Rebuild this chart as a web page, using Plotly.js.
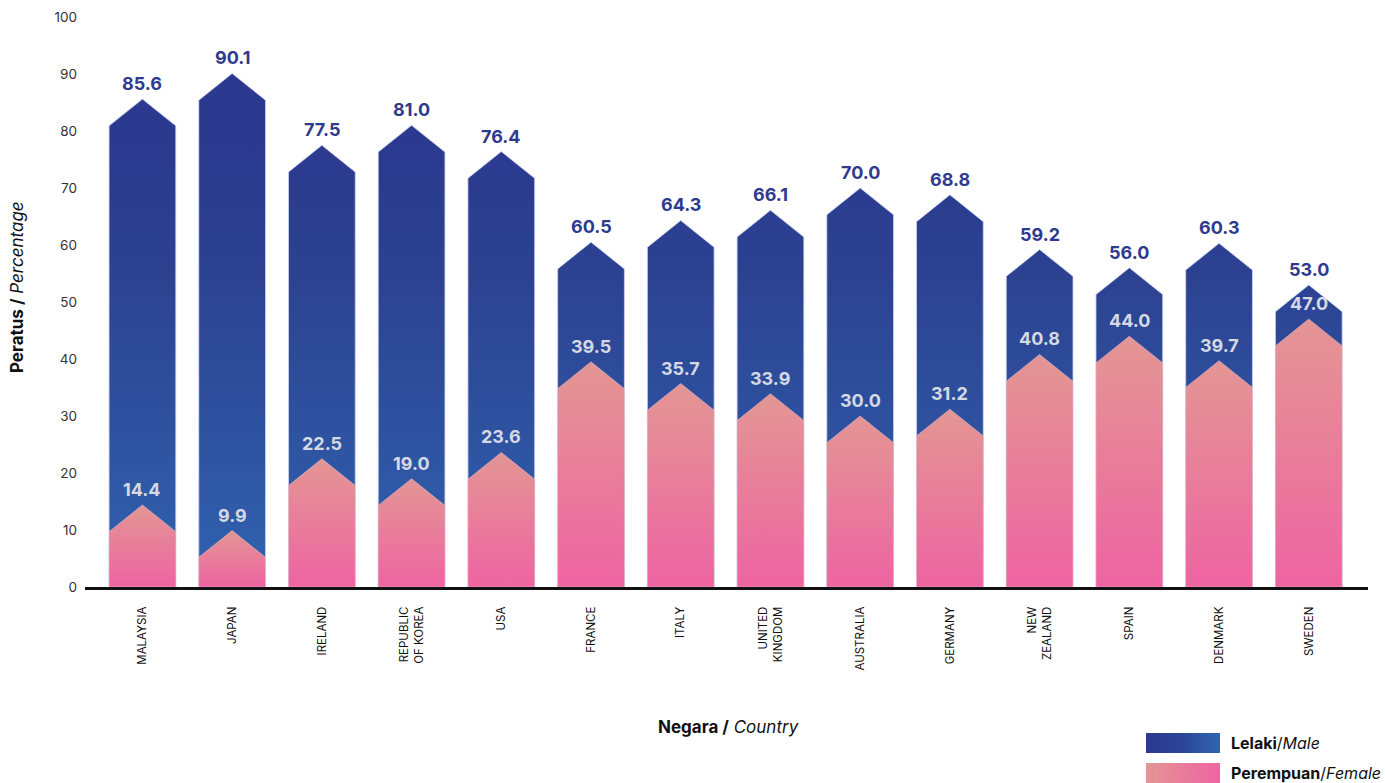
<!DOCTYPE html>
<html>
<head>
<meta charset="utf-8">
<script src="https://cdn.plot.ly/plotly-3.0.1.min.js"></script>
<style>html,body{margin:0;padding:0;background:#fff;}#chart{width:1385px;height:783px;}</style>
</head>
<body>
<div id="chart"></div>
<script>
// ---- data ----
const countries = ['MALAYSIA','JAPAN','IRELAND','REPUBLIC<br>OF KOREA','USA','FRANCE','ITALY','UNITED<br>KINGDOM','AUSTRALIA','GERMANY','NEW<br>ZEALAND','SPAIN','DENMARK','SWEDEN'];
const male   = [85.6, 90.1, 77.5, 81.0, 76.4, 60.5, 64.3, 66.1, 70.0, 68.8, 59.2, 56.0, 60.3, 53.0];
const female = [14.4,  9.9, 22.5, 19.0, 23.6, 39.5, 35.7, 33.9, 30.0, 31.2, 40.8, 44.0, 39.7, 47.0];
const yTicks = [0,10,20,30,40,50,60,70,80,90,100];

// ---- style ----
const HALF = 0.372;     // half bar width (category units)
const CHEV = 4.7;       // arrow-head depth (axis units)
const FONT = 'Inter, "Open Sans", sans-serif';
const maleScale = [[0,'#3063B0'],[0.3,'#2E52A0'],[0.6,'#2C4291'],[0.8,'#2B3B8F'],[1,'#2B388E']];
const femScale = [[0,'#EE64A1'],[1,'#E39694']];

function arrowPoly(i, v) {
  const s = Math.max(v - CHEV, 0);
  return {
    x: [i-HALF, i-HALF, i, i+HALF, i+HALF, i-HALF],
    y: [0, s, v, s, 0, 0]
  };
}

const traces = [];
countries.forEach((c, i) => {
  const p = arrowPoly(i, male[i]);
  traces.push({
    type: 'scatter', mode: 'lines', x: p.x, y: p.y, fill: 'toself',
    line: {color: 'rgba(205,210,240,0.8)', width: 1},
    fillcolor: '#2B3990',
    fillgradient: {type: 'vertical', colorscale: maleScale, start: 0, stop: 91},
    hoverinfo: 'skip', showlegend: false
  });
});
countries.forEach((c, i) => {
  const p = arrowPoly(i, female[i]);
  traces.push({
    type: 'scatter', mode: 'lines', x: p.x, y: p.y, fill: 'toself',
    line: {color: 'rgba(240,200,215,0.6)', width: 0.8},
    fillcolor: '#E8809A',
    fillgradient: {type: 'vertical', colorscale: femScale},
    hoverinfo: 'skip', showlegend: false
  });
});
// legend swatches on an overlay axis pair
traces.push({
  type: 'scatter', mode: 'lines', xaxis: 'x2', yaxis: 'y2',
  x: [0,0,1,1,0], y: [30,50,50,30,30], fill: 'toself', line: {width: 0},
  fillcolor: '#2B3990',
  fillgradient: {type: 'horizontal', colorscale: [[0,'#2B388E'],[0.5,'#2C4697'],[1,'#3066B0']]},
  hoverinfo: 'skip', showlegend: false
});
traces.push({
  type: 'scatter', mode: 'lines', xaxis: 'x2', yaxis: 'y2',
  x: [0,0,1,1,0], y: [0,20,20,0,0], fill: 'toself', line: {width: 0},
  fillcolor: '#E8809A',
  fillgradient: {type: 'horizontal', colorscale: [[0,'#E39694'],[1,'#EE64A1']]},
  hoverinfo: 'skip', showlegend: false
});

const annotations = [];
countries.forEach((c, i) => {
  annotations.push({x: i, y: male[i], xref: 'x', yref: 'y', text: '<b>' + male[i].toFixed(1) + '</b>',
    showarrow: false, yanchor: 'bottom', yshift: 3, font: {family: FONT, size: 18, color: '#2E3A8E'}});
  annotations.push({x: i, y: female[i], xref: 'x', yref: 'y', text: '<b>' + female[i].toFixed(1) + '</b>',
    showarrow: false, yanchor: 'bottom', yshift: 3, font: {family: FONT, size: 18, color: '#D6D9E4'}});
});
const W = 1385, H0 = 783, TOP = 17, PH = H0 - TOP;
const px = x => x / W, py = y => (H0 - y) / PH;
annotations.push({xref: 'paper', yref: 'paper', x: px(17), y: py(287), textangle: -90,
  text: '<b>Peratus /</b> <i>Percentage</i>', showarrow: false, xanchor: 'center', yanchor: 'middle',
  font: {family: FONT, size: 17, color: '#111'}});
annotations.push({xref: 'paper', yref: 'paper', x: px(728), y: py(727),
  text: '<b>Negara /</b> <i>Country</i>', showarrow: false, xanchor: 'center', yanchor: 'middle',
  font: {family: FONT, size: 17, color: '#111'}});
annotations.push({xref: 'paper', yref: 'paper', x: px(1229), y: py(743),
  text: '<b>Lelaki</b>/<i>Male</i>', showarrow: false, xanchor: 'left', yanchor: 'middle',
  font: {family: FONT, size: 16, color: '#111'}});
annotations.push({xref: 'paper', yref: 'paper', x: px(1229), y: py(773),
  text: '<b>Perempuan</b>/<i>Female</i>', showarrow: false, xanchor: 'left', yanchor: 'middle',
  font: {family: FONT, size: 16, color: '#111'}});

const layout = {
  width: W, height: H0,
  margin: {l: 0, r: 0, t: TOP, b: 0, pad: 0},
  paper_bgcolor: '#fff', plot_bgcolor: 'rgba(0,0,0,0)',
  showlegend: false,
  font: {family: FONT, color: '#333'},
  xaxis: {
    domain: [85/W, 1368/W], range: [-0.64, 13.66],
    tickmode: 'array', tickvals: countries.map((c, i) => i), ticktext: countries,
    tickangle: -90, tickfont: {family: FONT, size: 11.5, color: '#111'},
    showgrid: false, zeroline: false, showline: true, linecolor: '#111', linewidth: 3,
    ticks: '', ticklabelstandoff: 12, fixedrange: true
  },
  yaxis: {
    domain: [(H0 - 587)/PH, 1], range: [0, 100],
    tickmode: 'array', tickvals: yTicks, ticktext: yTicks.map(String),
    tickfont: {family: FONT, size: 13.5, color: '#333'},
    showgrid: false, zeroline: false, showline: false, ticks: '', ticklabelstandoff: 7, fixedrange: true
  },
  xaxis2: {domain: [1146/W, 1220/W], range: [0, 1], visible: false, fixedrange: true, anchor: 'y2'},
  yaxis2: {domain: [0, py(733)], range: [0, 50], visible: false, fixedrange: true, anchor: 'x2'},
  annotations: annotations
};

Plotly.newPlot('chart', traces, layout, {displayModeBar: false, staticPlot: true});
</script>
</body>
</html>
